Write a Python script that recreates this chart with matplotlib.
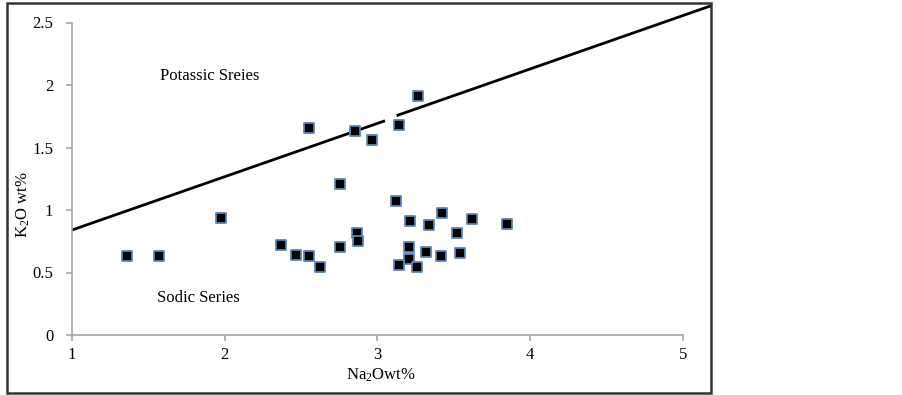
import matplotlib
matplotlib.use("Agg")
import matplotlib.pyplot as plt
from matplotlib.patches import Rectangle

plt.rcParams['font.family'] = ['Liberation Serif', 'DejaVu Serif']
plt.rcParams['mathtext.default'] = 'regular'

# Data (Na2O wt%, K2O wt%)
na2o = [1.36, 1.57, 1.976, 2.554, 2.855, 2.967, 3.14, 3.266, 2.755, 3.12,
        2.367, 2.469, 2.554, 2.624, 2.755, 2.866, 2.871,
        3.213, 3.338, 3.425, 3.618, 3.847, 3.523, 3.205, 3.32, 3.414,
        3.539, 3.207, 3.139, 3.257]
k2o = [0.632, 0.632, 0.94, 1.66, 1.63, 1.56, 1.68, 1.91, 1.205, 1.072,
       0.717, 0.643, 0.632, 0.544, 0.701, 0.813, 0.749,
       0.912, 0.88, 0.976, 0.93, 0.89, 0.82, 0.704, 0.664, 0.632,
       0.653, 0.608, 0.56, 0.541]

# Dividing line (two segments with a small gap)
line1_x = [1.0, 3.05]
line1_y = [0.84, 1.714]
line2_x = [3.126, 5.185]
line2_y = [1.755, 2.634]

x_ticks = [1, 2, 3, 4, 5]
y_ticks = [0, 0.5, 1, 1.5, 2, 2.5]
y_tick_labels = ['0', '0.5', '1', '1.5', '2', '2.5']

W, H = 903, 395
fig = plt.figure(figsize=(W / 100, H / 100), dpi=100)

ax = fig.add_axes([72 / W, (H - 335) / H, (711 - 72) / W, (335 - 5) / H])
ax.set_xlim(1, 5.185)
ax.set_ylim(0, 2.64)

ax.plot(line1_x, line1_y, color='black', lw=2.0, solid_capstyle='butt')
ax.plot(line2_x, line2_y, color='black', lw=2.0, solid_capstyle='butt')

ax.scatter(na2o, k2o, marker='s', s=62, facecolor='black',
           edgecolor='#5b86b8', linewidths=1.3, zorder=3)

for s in ['top', 'right']:
    ax.spines[s].set_visible(False)
for s in ['left', 'bottom']:
    ax.spines[s].set_color('#a6a6a6')
    ax.spines[s].set_linewidth(1.2)
ax.spines['left'].set_bounds(0, 2.5)
ax.spines['bottom'].set_bounds(1, 5)

ax.set_xticks(x_ticks)
ax.set_yticks(y_ticks)
ax.set_yticklabels(y_tick_labels)
ax.tick_params(axis='both', direction='out', length=4.5, width=1.2,
               color='#a6a6a6', labelsize=12, labelcolor='black')
ax.tick_params(axis='y', pad=9)
ax.tick_params(axis='x', pad=4)

ax.text(1.904, 2.07, 'Potassic Sreies', fontsize=12, ha='center', va='center')
ax.text(1.825, 0.294, 'Sodic Series', fontsize=12, ha='center', va='center')

fig.text(381 / W, 1 - 375 / H, 'Na$_2$Owt%', fontsize=12, ha='center', va='center')
fig.text(23 / W, 1 - 205 / H, 'K$_2$O wt%', fontsize=12, ha='center', va='center',
         rotation=90)

fig.patches.append(Rectangle((7 / W, 2 / H), (711 - 7) / W, (392 - 2) / H,
                             transform=fig.transFigure, fill=False,
                             edgecolor='#333333', lw=1.8, zorder=10))

fig.savefig('out.png', dpi=100)
